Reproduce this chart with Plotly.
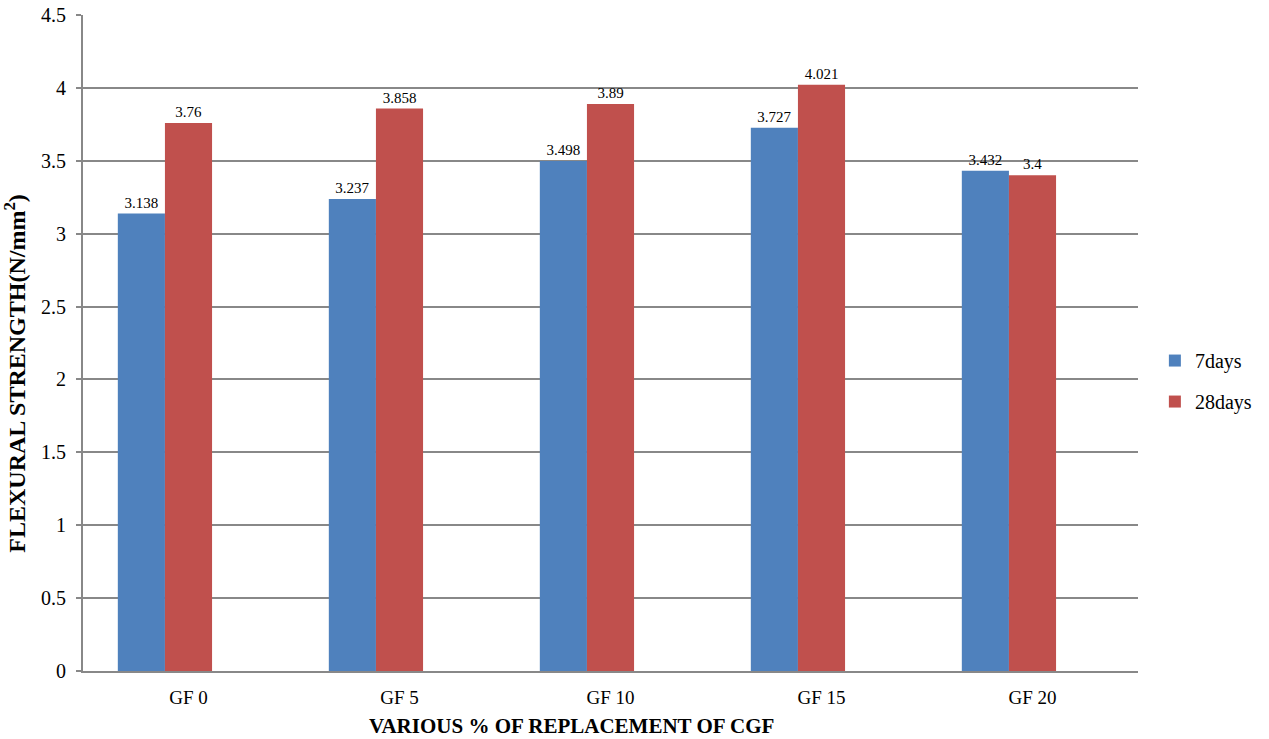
import plotly.graph_objects as go

categories = ["GF 0", "GF 5", "GF 10", "GF 15", "GF 20"]
days7 = [3.138, 3.237, 3.498, 3.727, 3.432]
days28 = [3.76, 3.858, 3.89, 4.021, 3.4]
# third series column exists in the sheet but holds no values
spare = [None, None, None, None, None]
y_ticks = [0, 0.5, 1, 1.5, 2, 2.5, 3, 3.5, 4, 4.5]
y_tick_text = ["0", "0.5", "1", "1.5", "2", "2.5", "3", "3.5", "4", "4.5"]

serif = "Liberation Serif, Times New Roman, serif"
label_font = dict(family=serif, size=15, color="#000000")

fig = go.Figure()
fig.add_trace(go.Bar(
    name="7days", x=categories, y=days7, legendgroup="a",
    marker=dict(color="#4F81BD", line=dict(width=0)),
    text=[f"{v:g}" for v in days7], textposition="outside",
    textfont=label_font, cliponaxis=False,
))
fig.add_trace(go.Bar(
    name="28days", x=categories, y=days28, legendgroup="b",
    marker=dict(color="#C0504D", line=dict(width=0)),
    text=[f"{v:g}" for v in days28], textposition="outside",
    textfont=label_font, cliponaxis=False,
))
fig.add_trace(go.Bar(
    name="series3", x=categories, y=spare, showlegend=False,
    marker=dict(color="#9BBB59"), hoverinfo="skip",
))

fig.update_layout(
    width=1269, height=739,
    margin=dict(l=83, r=129, t=15, b=68),
    paper_bgcolor="white", plot_bgcolor="white",
    barmode="group", bargap=0.33, bargroupgap=0,
    font=dict(family=serif, size=19, color="#000000"),
    legend=dict(
        x=1.016, y=0.442, xanchor="left", yanchor="middle",
        font=dict(family=serif, size=20),
        traceorder="grouped", tracegroupgap=12,
        bgcolor="rgba(0,0,0,0)",
    ),
    xaxis=dict(
        showline=True, linecolor="#888888", linewidth=2,
        ticks="", showgrid=False, automargin=False,
        ticklabelstandoff=8,
        tickfont=dict(family=serif, size=19),
    ),
    yaxis=dict(
        range=[0, 4.5], tickvals=y_ticks, ticktext=y_tick_text,
        showline=True, linecolor="#888888", linewidth=2,
        showgrid=True, gridcolor="#888888", gridwidth=2,
        zeroline=False, automargin=False,
        ticks="outside", ticklen=5, tickcolor="#888888", tickwidth=2,
        ticklabelstandoff=6,
        tickfont=dict(family=serif, size=20),
    ),
    annotations=[
        dict(text="<b>VARIOUS % OF REPLACEMENT OF CGF</b>",
             xref="paper", yref="paper", x=0.4626, y=-0.0838,
             xanchor="center", yanchor="middle", showarrow=False,
             font=dict(family=serif, size=21)),
        dict(text="<b>FLEXURAL STRENGTH(N/mm<sup>2</sup>)</b>",
             xref="paper", yref="paper", x=-0.064, y=0.454,
             xanchor="center", yanchor="middle", showarrow=False,
             textangle=-90, font=dict(family=serif, size=24)),
    ],
)

fig.write_html("out.html")
